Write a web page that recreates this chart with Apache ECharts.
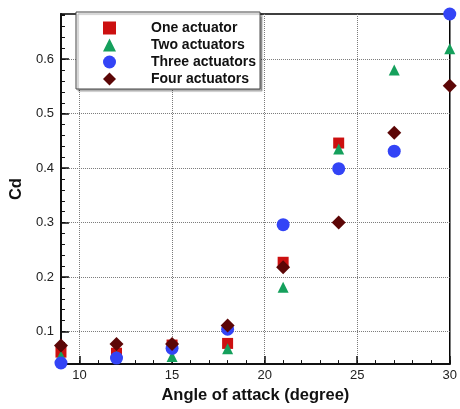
<!DOCTYPE html>
<html>
<head>
<meta charset="utf-8">
<script src="https://cdn.jsdelivr.net/npm/echarts@6/dist/echarts.min.js"></script>
<style>
  html, body { margin: 0; padding: 0; background: #fff; }
  #chart { width: 460px; height: 409px; }
</style>
</head>
<body>
<div id="chart"></div>
<script>
// Angle of attack (degree) for each measurement
const anglesOne = [9, 12, 15, 18, 21, 24];
const anglesAll = [9, 12, 15, 18, 21, 24, 27, 30];

// Drag coefficient per actuator configuration
const cdOne   = [0.062, 0.060, 0.075, 0.078, 0.227, 0.446];
const cdTwo   = [0.055, 0.055, 0.054, 0.068, 0.181, 0.435, 0.580, 0.619];
const cdThree = [0.042, 0.051, 0.069, 0.104, 0.296, 0.399, 0.431, 0.683];
const cdFour  = [0.074, 0.077, 0.077, 0.111, 0.218, 0.300, 0.465, 0.551];

const seriesNames = ['One actuator', 'Two actuators', 'Three actuators', 'Four actuators'];

// Tick positions
const xMajorTicks = [10, 15, 20, 25, 30];
const yMajorTicks = [0.1, 0.2, 0.3, 0.4, 0.5, 0.6];

const FONT = '"Liberation Sans", Arial, sans-serif';

function zip(xs, ys) { return ys.map((y, i) => [xs[i], y]); }

const chart = echarts.init(document.getElementById('chart'), null, { renderer: 'canvas' });

const gridDotted = { show: true, lineStyle: { color: '#7a7a7a', type: [1, 1], width: 1 } };

chart.setOption({
  animation: false,
  backgroundColor: '#fff',
  grid: {
    left: 57, right: 8, top: 14, bottom: 35,
    show: true, borderColor: '#000', borderWidth: 1.5, backgroundColor: 'transparent'
  },
  legend: {
    orient: 'vertical',
    left: 76, top: 12,
    padding: [9, 4, 3, 27],
    itemGap: 3,
    itemWidth: 13, itemHeight: 13,
    backgroundColor: '#fff',
    borderColor: '#444', borderWidth: 1,
    shadowColor: 'rgba(0,0,0,0.35)', shadowOffsetX: 2, shadowOffsetY: 2, shadowBlur: 1,
    textStyle: { fontFamily: FONT, fontWeight: 'bold', fontSize: 14, lineHeight: 14, color: '#111', padding: [0, 0, 0, 30] },
    data: seriesNames
  },
  xAxis: [
    {
      type: 'value', min: 9, max: 30,
      name: 'Angle of attack (degree)', nameLocation: 'middle', nameGap: 16,
      nameTextStyle: { fontFamily: FONT, fontWeight: 'bold', fontSize: 16.5, color: '#111' },
      axisLine: { show: true, onZero: false, lineStyle: { color: '#111', width: 2 } },
      axisTick: { show: true, inside: true, length: 8, customValues: xMajorTicks, lineStyle: { color: '#111', width: 1.5 } },
      axisLabel: { customValues: xMajorTicks, margin: 5, fontFamily: FONT, fontSize: 13, color: '#222' },
      splitLine: gridDotted
    },
    {
      type: 'value', min: 9, max: 30, interval: 1, position: 'bottom',
      axisLine: { show: false },
      axisTick: { show: true, inside: true, length: 4, lineStyle: { color: '#111', width: 1 } },
      axisLabel: { show: false },
      splitLine: { show: false }
    }
  ],
  yAxis: [
    {
      type: 'value', min: 0.04, max: 0.683,
      name: 'Cd', nameLocation: 'middle', nameGap: 34, nameRotate: 90,
      nameTextStyle: { fontFamily: FONT, fontWeight: 'bold', fontSize: 16.5, color: '#111' },
      axisLine: { show: true, onZero: false, lineStyle: { color: '#111', width: 2 } },
      axisTick: { show: true, inside: true, length: 8, customValues: yMajorTicks, lineStyle: { color: '#111', width: 1.5 } },
      axisLabel: { customValues: yMajorTicks, margin: 7, fontFamily: FONT, fontSize: 13, color: '#222',
                   formatter: v => v.toFixed(1) },
      splitLine: gridDotted
    },
    {
      type: 'value', min: 0.04, max: 0.683, interval: 0.02, position: 'left',
      axisLine: { show: false },
      axisTick: { show: true, inside: true, length: 4, lineStyle: { color: '#111', width: 1 } },
      axisLabel: { show: false },
      splitLine: { show: false }
    }
  ],
  series: [
    { name: seriesNames[0], type: 'scatter', symbol: 'rect', symbolSize: 11, clip: false,
      itemStyle: { color: '#cc1010', opacity: 1 }, data: zip(anglesOne, cdOne) },
    { name: seriesNames[1], type: 'scatter', symbol: 'triangle', symbolSize: 11, clip: false,
      itemStyle: { color: '#15a05c', opacity: 1 }, data: zip(anglesAll, cdTwo) },
    { name: seriesNames[2], type: 'scatter', symbol: 'circle', symbolSize: 13, clip: false,
      itemStyle: { color: '#3344f6', opacity: 1 }, data: zip(anglesAll, cdThree) },
    { name: seriesNames[3], type: 'scatter', symbol: 'diamond', symbolSize: 14, clip: false,
      itemStyle: { color: '#5c0606', opacity: 1 }, data: zip(anglesAll, cdFour) }
  ]
});
</script>
</body>
</html>
